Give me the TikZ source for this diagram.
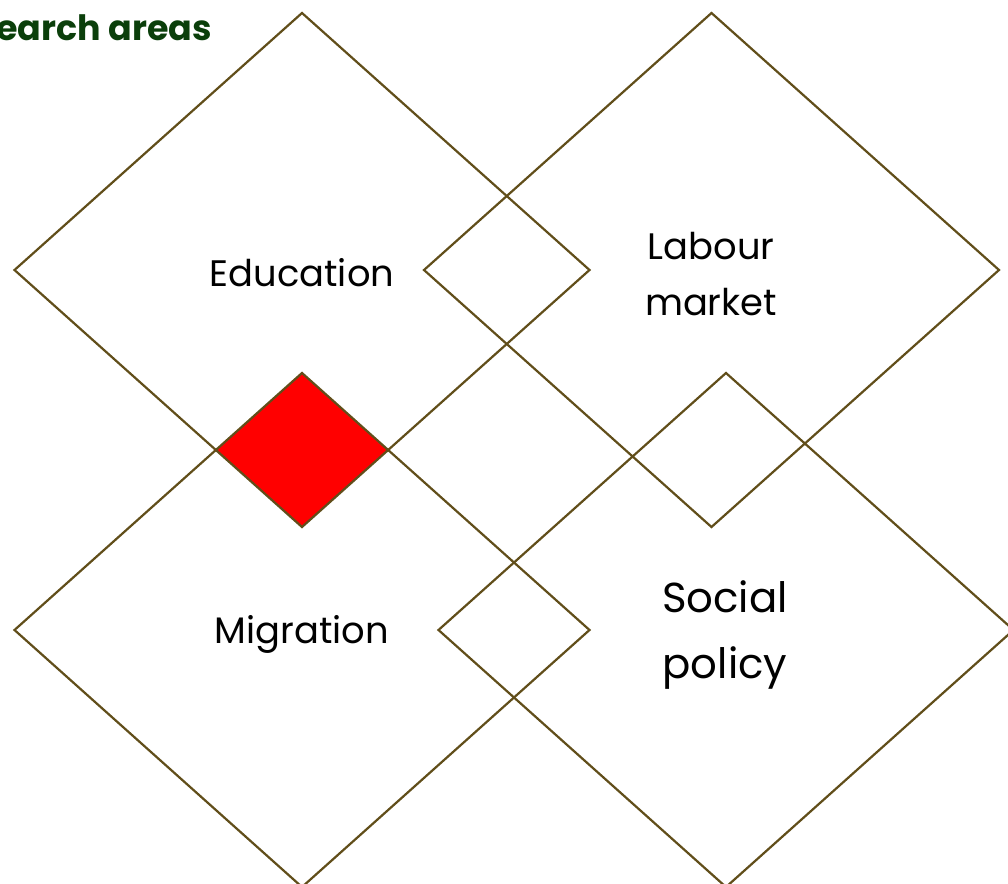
\documentclass[tikz,border=0pt]{standalone}
\usepackage{fontspec}
\setmainfont{Poppins}
\definecolor{edge}{HTML}{614E1A}
\definecolor{titlegreen}{HTML}{0B3F0B}
\tikzset{
  dia/.style={draw=edge, line width=2.2bp, line join=miter},
  lab/.style={align=center, text=black, inner sep=0pt},
}
\newcommand{\diam}[2]{(#1-287.5,#2) -- (#1,#2-257) -- (#1+287.5,#2) -- (#1,#2+257) -- cycle}
\begin{document}
\begin{tikzpicture}[x=1bp,y=-1bp]
\useasboundingbox (0,0) rectangle (1008,884);
\clip (0,0) rectangle (1008,884);
\fill[white] (0,0) rectangle (1008,884);
% red intersection of Education and Migration
\begin{scope}
  \clip \diam{302}{270};
  \fill[red] \diam{302}{630};
\end{scope}
\draw[dia] \diam{302}{270};
\draw[dia] \diam{711.5}{270};
\draw[dia] \diam{302}{630};
\draw[dia] \diam{726}{630};
\node[lab, font=\fontsize{37}{40}\selectfont] (edu) at (302,273) {Education};
\node[lab, font=\fontsize{37}{56}\selectfont] (lab) at (711,274) {Labour\\market};
\node[lab, font=\fontsize{37}{40}\selectfont] (mig) at (302,634) {Migration};
\node[lab, font=\fontsize{42}{66}\selectfont] (soc) at (725,635) {Social\\policy};
\node[anchor=base east, inner sep=0pt, text=titlegreen, font=\fontsize{35}{40}\selectfont\bfseries] (title) at (212,40) {Research areas};
\end{tikzpicture}
\end{document}
